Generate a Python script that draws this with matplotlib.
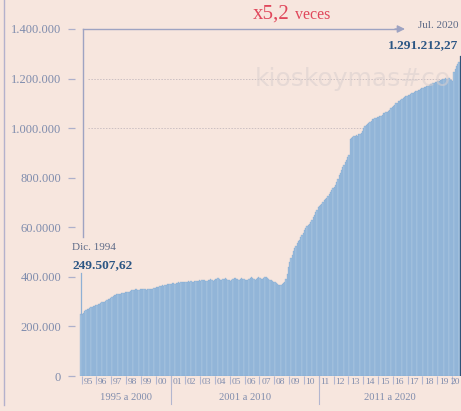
import matplotlib
matplotlib.use('Agg')
import matplotlib.pyplot as plt
import matplotlib.transforms as mtransforms
from matplotlib.lines import Line2D
import numpy as np

# ---------------- data (thousands) ----------------
v1994 = [249.50762]
v1995 = [252, 256, 262, 266, 270, 272, 276, 278, 280, 282, 284, 286]
v1996 = [287, 290, 292, 294, 297, 298, 300, 302, 305, 309, 312, 315]
v1997 = [318, 322, 325, 328, 330, 331, 332, 331, 333, 334, 336, 338]
v1998 = [339, 340, 340, 342, 345, 346, 348, 350, 349, 347, 348, 350]
v1999 = [351, 350, 352, 351, 348, 349, 350, 352, 353, 351, 354, 356]
v2000 = [358, 359, 361, 362, 364, 366, 365, 367, 368, 370, 372, 371]
v2001 = [372, 374, 375, 373, 376, 377, 378, 376, 379, 380, 381, 379]
v2002 = [378, 380, 382, 381, 383, 381, 380, 382, 384, 383, 385, 386]
v2003 = [384, 386, 388, 387, 385, 383, 386, 388, 390, 387, 385, 388]
v2004 = [390, 392, 394, 391, 389, 387, 390, 393, 395, 392, 388, 386]
v2005 = [384, 387, 391, 394, 396, 393, 390, 388, 391, 394, 392, 390]
v2006 = [388, 386, 389, 392, 395, 398, 394, 390, 387, 392, 396, 399]
v2007 = [397, 393, 390, 394, 398, 401, 397, 392, 389, 386, 383, 380]
v2008 = [378, 374, 370, 368, 366, 369, 372, 375, 378, 390, 410, 440]
v2009 = [460, 478, 490, 505, 515, 525, 535, 545, 550, 560, 570, 578]
v2010 = [588, 598, 604, 610, 615, 622, 630, 640, 650, 660, 670, 680]
v2011 = [685, 690, 695, 702, 710, 715, 720, 726, 735, 742, 750, 758]
v2012 = [762, 770, 782, 796, 810, 820, 830, 842, 852, 862, 872, 882]
v2013 = [890, 955, 960, 965, 968, 970, 972, 970, 975, 978, 982, 988]
v2014 = [1000, 1010, 1014, 1018, 1020, 1025, 1030, 1035, 1038, 1040, 1042, 1045]
v2015 = [1045, 1048, 1050, 1055, 1060, 1062, 1065, 1067, 1070, 1075, 1080, 1085]
v2016 = [1090, 1095, 1100, 1103, 1108, 1110, 1115, 1118, 1120, 1125, 1128, 1131]
v2017 = [1132, 1135, 1138, 1140, 1143, 1145, 1148, 1150, 1152, 1155, 1158, 1160]
v2018 = [1162, 1165, 1168, 1170, 1172, 1175, 1178, 1180, 1182, 1184, 1186, 1188]
v2019 = [1190, 1192, 1194, 1196, 1198, 1200, 1202, 1198, 1200, 1203, 1196, 1195]
v2020 = [1190, 1225, 1240, 1250, 1258, 1268, 1291.21227]

year_labels = ['95', '96', '97', '98', '99', '00', '01', '02', '03', '04', '05', '06', '07',
               '08', '09', '10', '11', '12', '13', '14', '15', '16', '17', '18', '19', '20']
group_labels = ['1995 a 2000', '2001 a 2010', '2011 a 2020']
group_years = [(1995, 2000), (2001, 2010), (2011, 2020)]
ytick_vals = [0, 200000, 400000, 600000, 800000, 1000000, 1200000, 1400000]
ytick_labels = ['0', '200.000', '400.000', '60.0000', '800.000', '1.000.000', '1.200.000', '1.400.000']
first_label = 'Dic. 1994'
last_label = 'Jul. 2020'
watermark = 'kioskoymas#co'

series = (v1994 + v1995 + v1996 + v1997 + v1998 + v1999 + v2000 + v2001 + v2002 + v2003 +
          v2004 + v2005 + v2006 + v2007 + v2008 + v2009 + v2010 + v2011 + v2012 + v2013 +
          v2014 + v2015 + v2016 + v2017 + v2018 + v2019 + v2020)
vals = np.array(series) * 1000.0
n = len(vals)
idx = np.arange(n)

def es_fmt(v):
    s = f"{v:,.2f}"
    return s.replace(',', 'X').replace('.', ',').replace('X', '.')

# ---------------- figure ----------------
W, H = 461, 411
plt.rcParams['font.family'] = ['Liberation Serif', 'DejaVu Serif']
fig = plt.figure(figsize=(W / 100, H / 100), dpi=100)
bg = '#f7e6de'
fig.patch.set_facecolor(bg)

def fx(px):
    return px / W

def fy(py):
    return 1 - py / H

ax = fig.add_axes([fx(75), fy(376), (461 - 75) / W, (376 - 29) / H])
ax.set_facecolor('none')

colors = ['#a7c3df'] * (n - 1) + ['#2f5379']
edges = ['#6f9ecd'] * (n - 1) + ['#2f5379']
ax.bar(idx, vals, width=1.0, color=colors, edgecolor=edges, linewidth=0.18, zorder=2)

ax.set_xlim(-4.9, 307.7)
ax.set_ylim(0, 1400000)

for s in ax.spines.values():
    s.set_visible(False)

# grid lines (only visible ones)
for gv in [1000000, 1200000]:
    ax.plot([5.5, 308], [gv, gv], color='#cbbfc2', lw=0.7, ls=(0, (1.5, 1.5)), zorder=1)

ax.set_yticks(ytick_vals)
ax.set_yticklabels(ytick_labels)
ax.tick_params(axis='y', length=5, width=0.9, color='#aeb0cb', pad=5,
               labelsize=9, labelcolor='#7f8cad')

year_pos = [0.5 + 12 * k for k in range(len(year_labels))]
ax.set_xticks(year_pos)
ax.set_xticklabels([''] * len(year_pos))
ax.tick_params(axis='x', length=6, width=0.8, color='#b3b6cf', pad=0)

for k, (p, lab) in enumerate(zip(year_pos, year_labels)):
    if k == len(year_labels) - 1:
        ax.annotate(lab, xy=(1, 0), xycoords='axes fraction',
                    xytext=(-0.6, -4.6), textcoords='offset points',
                    ha='right', va='center', fontsize=6.8, color='#7f8cad',
                    annotation_clip=False)
    else:
        ax.annotate(lab, xy=(p, 0), xycoords=('data', 'axes fraction'),
                    xytext=(1.2, -4.6), textcoords='offset points',
                    ha='left', va='center', fontsize=6.8, color='#7f8cad',
                    annotation_clip=False)

trans_xf = mtransforms.blended_transform_factory(ax.transData, fig.transFigure)
for (y0, y1), lab in zip(group_years, group_labels):
    a = 0.5 + 12 * (y0 - 1995)
    b = min(0.5 + 12 * (y1 - 1995 + 1), n - 0.5)
    fig.text((a + b) / 2, fy(397), lab, transform=trans_xf, ha='center', va='center',
             fontsize=7.6, color='#7f8cad')

for ys in [2001, 2011]:
    p = 0.5 + 12 * (ys - 1995)
    fig.add_artist(Line2D([p, p], [fy(376), fy(404)], transform=trans_xf,
                          color='#b3b6cf', lw=0.8))

# connector from first label to first bar
ax.plot([0, 0], [vals[0], 416000], color='#8fb0d5', lw=0.9, zorder=3, clip_on=False)

# left border line
fig.add_artist(Line2D([fx(3.5), fx(3.5)], [fy(0), fy(405)], color='#b4b1cc', lw=1))

# arrow bracket
line_c = '#9ea3c2'
fig.add_artist(Line2D([fx(83), fx(83)], [fy(29), fy(237)], color=line_c, lw=1))
fig.add_artist(Line2D([fx(83), fx(398)], [fy(29), fy(29)], color=line_c, lw=1))
ax.annotate('', xy=(fx(405), fy(29)), xytext=(fx(395), fy(29)), xycoords='figure fraction',
            textcoords='figure fraction',
            arrowprops=dict(arrowstyle='-|>', color=line_c, lw=1, mutation_scale=11,
                            shrinkA=0, shrinkB=0))

ratio = vals[-1] / vals[0]
red = '#e0475b'
fig.text(fx(290), fy(19), 'x' + f"{ratio:.1f}".replace('.', ','), ha='right', va='baseline',
         fontsize=15, color=red)
fig.text(fx(295), fy(19), 'veces', ha='left', va='baseline', fontsize=11.5, color=red)

# annotations
fig.text(fx(458), fy(25), last_label, ha='right', va='center', fontsize=8, color='#5e6b88')
fig.text(fx(458), fy(45), es_fmt(vals[-1]), ha='right', va='center', fontsize=9.6,
         fontweight='bold', color='#2c5684')
fig.text(fx(72), fy(247), first_label, ha='left', va='center', fontsize=8, color='#5e6b88')
fig.text(fx(72), fy(265), es_fmt(vals[0]), ha='left', va='center', fontsize=9.6,
         fontweight='bold', color='#2c5684')

# watermark
fig.text(fx(255), fy(79), watermark, ha='left', va='center', fontsize=18,
         family='DejaVu Sans', color='#d9cfcf', alpha=0.55, zorder=5)

fig.savefig('out.png', dpi=100, facecolor=bg)
